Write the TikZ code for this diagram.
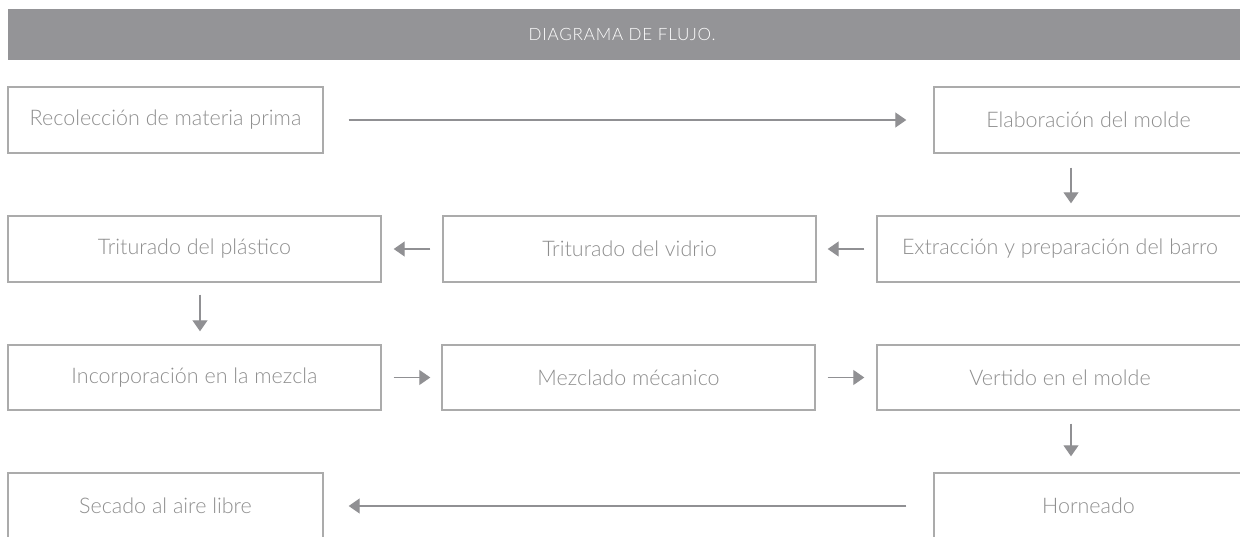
\documentclass[tikz,border=0pt]{standalone}
\usepackage{fontspec}
\setmainfont{Lato Light}
\usetikzlibrary{arrows.meta}
\definecolor{headgray}{HTML}{949497}
\definecolor{boxgray}{HTML}{ABABAB}
\definecolor{txtgray}{HTML}{8E8E8E}
\definecolor{arrgray}{HTML}{909093}
\begin{document}
\begin{tikzpicture}[x=1pt,y=-1pt,
  paso/.style={draw=boxgray,line width=1.4pt,minimum height=66pt,inner sep=0pt,
    text=txtgray,font=\fontsize{21.5}{24}\selectfont},
  flecha/.style={draw=arrgray,line width=1.2pt,-{Triangle[length=11pt,width=15pt]}}]
\useasboundingbox (0,0) rectangle (1240,537);
\fill[headgray] (8,9) rectangle (1240,60);
\node[text=white,font=\addfontfeatures{LetterSpace=5}\fontsize{17}{19}\selectfont] (titulo) at (622,34.5) {DIAGRAMA DE FLUJO.};
\node[paso,minimum width=315pt] (recol) at (165.5,120) {Recolección de materia prima};
\node[paso,minimum width=309pt] (elab) at (1088.5,120) {Elaboración del molde};
\node[paso,minimum width=373pt] (plast) at (194.5,249) {Triturado del plástico};
\node[paso,minimum width=373pt] (vidrio) at (629.5,249) {Triturado del vidrio};
\node[paso,minimum width=366pt] (extr) at (1060,249) {Extracción y preparación del barro};
\node[paso,minimum width=373pt,minimum height=65pt] (incorp) at (194.5,377.5) {Incorporación en la mezcla};
\node[paso,minimum width=373pt,minimum height=65pt] (mezcl) at (628.5,377.5) {Mezclado mécanico};
\node[paso,minimum width=366pt,minimum height=65pt] (vert) at (1060,377.5) {Vertido en el molde};
\node[paso,minimum width=315pt] (secado) at (165.5,506) {Secado al aire libre};
\node[paso,minimum width=309pt] (horn) at (1088.5,506) {Horneado};
\coordinate (bajaA) at (1071,0);
\coordinate (bajaB) at (200,0);
\draw[flecha,shorten <=25pt,shorten >=27pt] (recol) to (elab);
\draw[flecha,shorten <=14pt,shorten >=12pt] (elab.south -| bajaA) to (extr.north -| bajaA);
\draw[flecha,shorten <=12pt,shorten >=11pt] (extr) to (vidrio);
\draw[flecha,shorten <=12pt,shorten >=12pt] (vidrio) to (plast);
\draw[flecha,shorten <=12pt,shorten >=13pt] (plast.south -| bajaB) to (incorp.north -| bajaB);
\draw[flecha,shorten <=12pt,shorten >=11pt] (incorp) to (mezcl);
\draw[flecha,shorten <=12pt,shorten >=12pt] (mezcl) to (vert);
\draw[flecha,shorten <=13pt,shorten >=16pt] (vert.south -| bajaA) to (horn.north -| bajaA);
\draw[flecha,shorten <=27pt,shorten >=25pt] (horn) to (secado);
\end{tikzpicture}
\end{document}
